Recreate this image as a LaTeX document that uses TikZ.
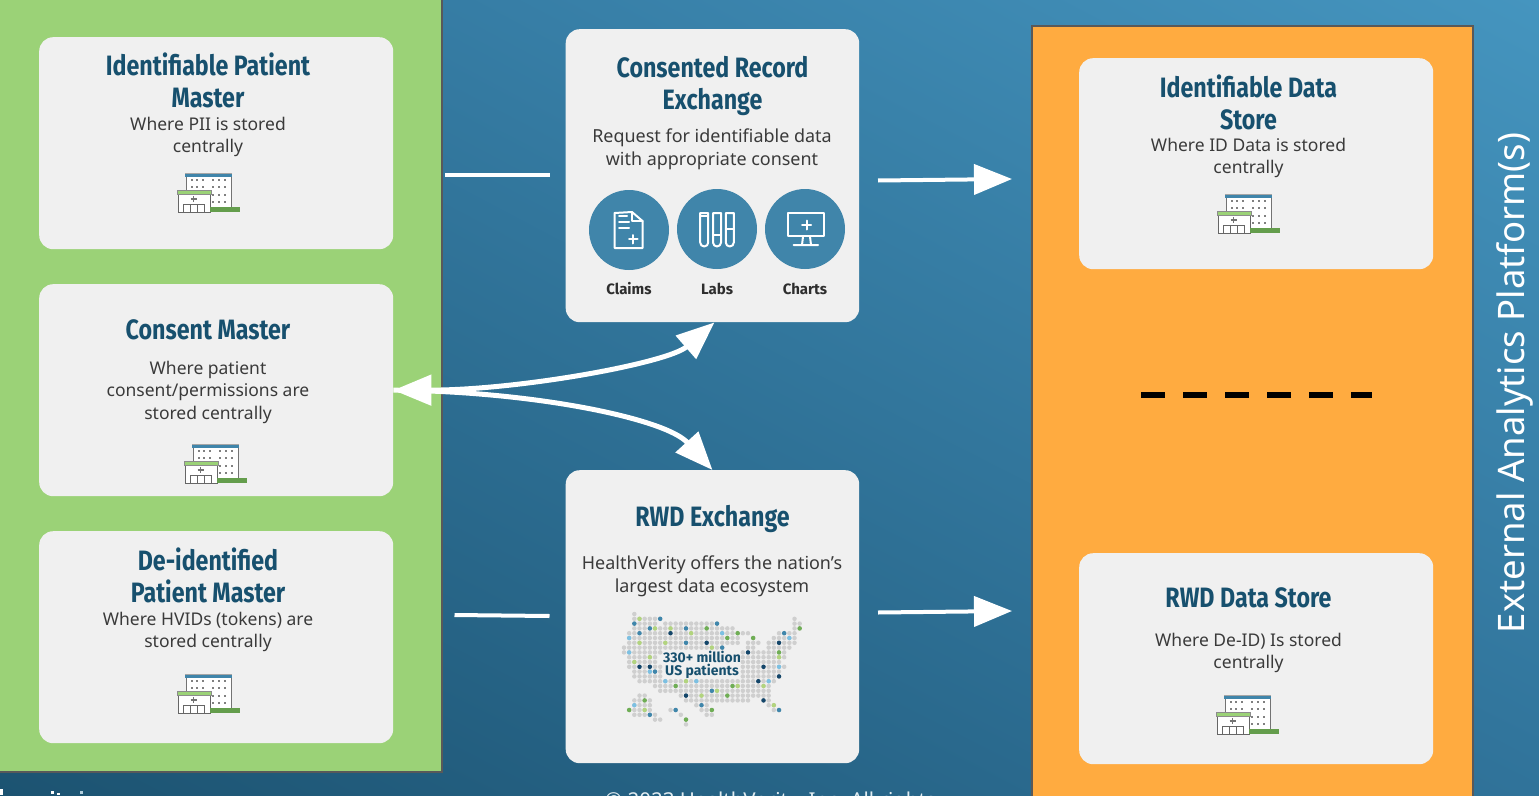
\documentclass[tikz,border=0pt]{standalone}
\usepackage{fontspec}
\usetikzlibrary{arrows.meta,shadings}
\setmainfont{Noto Sans}
\newfontfamily\headf[FakeStretch=0.83]{Fira Sans}
\newfontfamily\labelf{Fira Sans}
\definecolor{heading}{HTML}{17506E}
\definecolor{bodytxt}{HTML}{3A3A3A}
\definecolor{cardbg}{HTML}{F0F0F0}
\definecolor{panelgreen}{HTML}{9BD277}
\definecolor{panelorange}{HTML}{FFAB40}
\definecolor{panelline}{HTML}{595959}
\definecolor{teal}{HTML}{4085AA}
\definecolor{mgrey}{HTML}{CFCFCF}
\definecolor{mnavy}{HTML}{14466A}
\definecolor{mblue}{HTML}{3F86AB}
\definecolor{msky}{HTML}{7CC0E2}
\definecolor{mgreen}{HTML}{6FAE55}
\definecolor{mlime}{HTML}{B2D47E}
\definecolor{bgll}{HTML}{1C5371}
\definecolor{bgur}{HTML}{4595BF}
\definecolor{bgmid}{HTML}{30739A}
\tikzset{
  card/.style={fill=cardbg,rounded corners=14pt,inner sep=0pt},
  panel/.style={draw=panelline,line width=2pt},
  titletxt/.style={font=\headf\bfseries\fontsize{28}{32}\selectfont,text=heading,align=center,inner sep=0pt},
  bodyt/.style={font=\fontsize{17.5}{22.5}\selectfont,text=bodytxt,align=center,inner sep=0pt},
  bodyw/.style={font=\fontsize{17.95}{22.5}\selectfont,text=bodytxt,align=center,inner sep=0pt},
  iconlabel/.style={font=\labelf\bfseries\fontsize{15}{17}\selectfont,text=bodytxt!80!black,inner sep=0pt},
  iconcircle/.style={fill=teal,circle,minimum size=80pt,inner sep=0pt},
  iconline/.style={draw=white,line width=2pt,line join=round,line cap=round},
  flow/.style={draw=white,line width=4pt},
  flowtip/.style={-{Triangle[length=38pt,width=30pt]}},
  hospital/.pic={
    \fill[white] (9,4) rectangle (54,39);
    \draw[draw=black!55,line width=.7pt] (9,4) -- (9,39) (54,4) -- (54,39);
    \fill[teal] (8,0) rectangle (55,4.3);
    \draw[black!35,line width=.6pt] (8,0) -- (55,0);
    \foreach \wx in {14.7,20.3,26.3,36.3,42.3,48.3}
      \foreach \wy in {7,13.7}
        \fill[black!50] (\wx-1,\wy-1.2) rectangle (\wx+.8,\wy+1.2);
    \foreach \wx in {36.3,42.3,48.3}
      \foreach \wy in {22,29}
        \fill[black!50] (\wx-1,\wy-1.2) rectangle (\wx+.8,\wy+1.2);
    \fill[white] (1,21) rectangle (33,39);
    \draw[black!60,line width=.7pt] (1,21) -- (1,39) -- (33,39) -- (33,21);
    \fill[panelgreen] (0,17) rectangle (34,21);
    \draw[black!45,line width=.5pt] (0,17) rectangle (34,21);
    \draw[black!60,line width=.7pt] (6,39) -- (6,31) -- (27,31) -- (27,39) (13,31) -- (13,39) (20,31) -- (20,39);
    \draw[black!55,line width=1.2pt] (13.5,26) -- (19.5,26) (16.5,23) -- (16.5,29);
    \fill[mgreen!90!black] (33,34) rectangle (63,39);
  }
}
\newcommand{\cardbox}[5]{% name, left, top, width, height
  \node[card,minimum width=#4pt,minimum height=#5pt,anchor=north west] (#1) at (#2,#3) {};}
\newcommand{\mapdot}[3]{\fill[#3] (#1*5.167,#2*4.8) circle (2.25pt);}
\begin{document}
\begin{tikzpicture}[x=1pt,y=-1pt]
\useasboundingbox (0,0) rectangle (1539,795);
\clip (0,0) rectangle (1539,795);
% background
\shade[shading=bilinear interpolation,lower left=bgll,upper right=bgur,lower right=bgmid,upper left=bgmid] (0,0) rectangle (1539,795);
% panels
\draw[panel,fill=panelgreen] (-3,-3) rectangle (442,772);
\draw[panel,fill=panelorange] (1032,26) rectangle (1473,800);
% footer fragments
\fill[white] (0,789) rectangle (2.5,795);
\fill[white] (51,790.5) rectangle (54,793.5);
\fill[white] (57,792.5) rectangle (60,795);
\fill[white!60!teal] (79.5,790.5) rectangle (82.5,793.5);
\node[anchor=base west,inner sep=0pt,text=white!85!teal,font=\fontsize{20.5}{24}\selectfont] (copyr) at (605,807) {© 2023 HealthVerity, Inc. All rights};
% cards
\cardbox{patient}{39}{37}{354}{212}
\cardbox{consent}{39}{284}{354}{212}
\cardbox{deid}{39}{531}{354}{212}
\cardbox{record}{565.5}{29}{293.5}{293}
\cardbox{rwd}{565.5}{470}{293.5}{293}
\cardbox{idstore}{1079}{58}{354}{211}
\cardbox{rwdstore}{1079}{553}{354}{211}
% card texts
\node[titletxt] (t1) at (208,80) {Identifiable Patient\\Master};
\node[bodyt] (b1) at (208,137) {Where PII is stored\\centrally};
\node[titletxt] (t2) at (208,330) {Consent Master};
\node[bodyt] (b2) at (208,392) {Where patient\\consent/permissions are\\stored centrally};
\node[titletxt] (t3) at (208,575) {De-identified\\Patient Master};
\node[bodyt] (b3) at (208,632) {Where HVIDs (tokens) are\\stored centrally};
\node[titletxt] (t4) at (712.5,85.5) {Consented Record\\Exchange};
\node[bodyw] (b4) at (712,149.5) {Request for identifiable data\\with appropriate consent};
\node[titletxt] (t5) at (712.5,519) {RWD Exchange};
\node[bodyw] (b5) at (712,576.5) {HealthVerity offers the nation’s\\largest data ecosystem};
\node[titletxt] (t6) at (1248.5,102) {Identifiable Data\\Store};
\node[bodyt] (b6) at (1248.5,158) {Where ID Data is stored\\centrally};
\node[titletxt] (t7) at (1248.5,598) {RWD Data Store};
\node[bodyt] (b7) at (1248.5,653) {Where De-ID) Is stored\\centrally};
% hospitals
\pic at (177,173) {hospital};
\pic at (184,444) {hospital};
\pic at (177,674) {hospital};
\pic at (1217,194) {hospital};
\pic at (1216,695) {hospital};
% icon circles
\node[iconcircle] (claims) at (629,230) {};
\node[iconcircle] (labs) at (717,229) {};
\node[iconcircle] (charts) at (805,229) {};
\node[iconlabel] (lc) at (629,288.5) {Claims};
\node[iconlabel] (ll) at (717,288.5) {Labs};
\node[iconlabel] (lh) at (805,288.5) {Charts};
% claims icon
\draw[iconline] (614.5,213) -- (632,212) -- (642.5,221) -- (642.5,248) -- (614.5,248) -- cycle;
\draw[iconline] (632,212) -- (632,221) -- (642.5,221);
\draw[iconline] (619,216) -- (627,216) (619,222) -- (629,222) (619,228) -- (629,228);
\draw[iconline] (629,239.3) -- (637.5,239.3) (633.3,235) -- (633.3,243.5);
% labs icon
\foreach \lx in {700.2,713,725.8}
  \draw[iconline] (\lx,213) -- (\lx+8,213) -- (\lx+8,242.5) arc[start angle=0,end angle=-180,radius=4pt] -- cycle;
\draw[iconline] (700.2,216) -- (708.2,216) (713,235) -- (721,235) (725.8,229) -- (733.8,229);
% charts icon
\draw[iconline] (788.3,213) rectangle (824,236);
\draw[iconline] (802,225) -- (811,225) (806.5,220.5) -- (806.5,229.5);
\draw[iconline] (803,236.5) -- (802,245) (810,236.5) -- (811,245) (793.5,245) -- (818,245);
% map
\begin{scope}[shift={(624,614)}]
\foreach \r/\a/\b in {0/2/2,1/2/7,2/2/6,2/8/18,3/2/21,3/33/34,4/1/24,4/30/33,1/33/33,2/33/34,
  5/1/22,5/25/25,5/29/33,6/1/22,6/24/26,6/28/33,7/0/19,7/24/25,7/28/32,8/0/7,8/23/31,9/1/6,9/23/31,
  10/1/6,10/23/30,11/1/7,11/23/31,12/2/7,12/23/30,13/2/7,13/23/30,14/3/29,15/6/28,16/7/28,17/11/28,17/3/4,
  18/12/24,18/27/28,18/2/5,19/14/16,19/28/29,19/2/5,20/15/17,20/29/30,20/1/5,20/9/10,21/16/17,21/2/6,21/11/11,
  22/6/7,22/12/12,23/12/12}
  \foreach \c in {\a,...,\b} {\mapdot{\c}{\r}{mgrey}}
\foreach \c/\r in {7/1,2/2,18/2,5/3,12/3,3/4,31/4,12/6,19/7,6/12,17/16,15/19,10/20,30/20,5/21}
  {\mapdot{\c}{\r}{mblue}}
\foreach \c/\r in {9/4,16/6,30/6,24/8,3/11,5/11,27/11,30/13,26/14,12/17,27/18}
  {\mapdot{\c}{\r}{mnavy}}
\foreach \c/\r in {19/4,1/5,32/5,1/8,30/11,5/12,8/14,14/14,28/14,2/19}
  {\mapdot{\c}{\r}{msky}}
\foreach \c/\r in {16/3,34/3,22/4,20/5,25/5,30/8,10/15,21/15,20/17,4/18,1/20,17/20,12/22}
  {\mapdot{\c}{\r}{mgreen}}
\foreach \c/\r in {3/1,6/3,9/3,13/4,3/6,8/6,17/7,5/9,30/9,2/10,12/14,22/15,27/15,18/16,15/17,29/19,4/20}
  {\mapdot{\c}{\r}{mlime}}
\end{scope}
\node[inner sep=0pt,align=center,text=heading,font=\labelf\bfseries\fontsize{14}{13.5}\selectfont] (mapl) at (702,665) {330+ million\\US patients};
% connectors
\coordinate (a1s) at (445,175);
\coordinate (a1e) at (549.5,175);
\coordinate (a2s) at (878,180.5);
\coordinate (a2e) at (1012,179);
\coordinate (a3s) at (454.5,615);
\coordinate (a3e) at (549.5,616);
\coordinate (a4s) at (878,612.5);
\coordinate (a4e) at (1012,611);
\draw[flow] (a1s) -- (a1e);
\draw[flow,flowtip] (a2s) -- (a2e);
\draw[flow] (a3s) -- (a3e);
\draw[flow,flowtip] (a4s) -- (a4e);
\draw[flow,line width=5pt,{Triangle[length=38pt,width=30pt]}-{Triangle[length=38pt,width=30pt]}] (consent.east) .. controls (520,390) and (668,363) .. ([xshift=2pt]record.south);
\draw[flow,line width=5pt,flowtip] (consent.east) .. controls (530,391) and (665,418) .. (rwd.north);
\coordinate (d1) at (1141,395);
\coordinate (d2) at (1372,395);
\draw[black,line width=6pt,dash pattern=on 24pt off 18pt] (d1) -- (d2);
\node[rotate=90,inner sep=0pt,text=white,font=\fontsize{36.5}{40}\selectfont] (ext) at (1515,383) {External Analytics Platform(s)};
\end{tikzpicture}
\end{document}
